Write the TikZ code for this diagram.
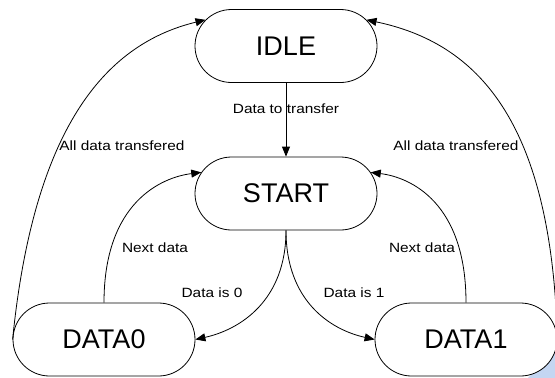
\documentclass[tikz,border=0pt]{standalone}
\usepackage{fontspec}
\setmainfont{Liberation Sans}
\newfontfamily\lblfont[FakeStretch=1.15]{Liberation Sans}
\usetikzlibrary{shapes.misc,arrows.meta}
\definecolor{cornertint}{RGB}{196,214,242}
\tikzset{
  state/.style={rounded rectangle, draw, line width=0.8pt, fill=white,
    minimum width=182pt, minimum height=73pt, inner sep=0pt,
    font=\fontsize{27}{30}\selectfont},
  trans/.style={draw, line width=0.8pt, -{Triangle[length=10pt,width=8pt]}},
  lbl/.style={inner sep=0pt, anchor=base, font=\lblfont\fontsize{13.4}{16}\selectfont}
}
\begin{document}
\begin{tikzpicture}[x=1pt,y=-1pt]
\useasboundingbox (0,0) rectangle (555,378);
% small tinted patch at the lower right corner
\fill[cornertint] (528,378) -- (555,350) -- (555,378) -- cycle;

% states
\node[state] (idle)  at (286,46)    {IDLE};
\node[state] (start) at (286,193.5) {START};
\node[state] (d0)    at (104,339.5) {DATA0};
\node[state] (d1)    at (466,339.5) {DATA1};

% transitions
\draw[trans] (idle.south) -- (start.north);
\draw[trans] (start.south) .. controls +(0,70) and +(45,-10) .. (d0.east);
\draw[trans] (start.south) .. controls +(0,70) and +(-45,-10) .. (d1.west);
\draw[trans] (d0.north) .. controls +(0,-100) and +(-40,5) .. (start.166);
\draw[trans] (d1.north) .. controls +(0,-100) and +(40,5) .. (start.14);
\draw[trans] (d0.west) .. controls +(22,-220) and +(-95,23) .. (idle.162);
\draw[trans] (d1.east) .. controls +(-6,-220) and +(110,23) .. (idle.18);

% transition labels
\node[lbl] (lTransfer) at (286,113)   {Data to transfer};
\node[lbl] (lAllL)     at (122,150)   {All data transfered};
\node[lbl] (lAllR)     at (456,150)   {All data transfered};
\node[lbl] (lNextL)    at (155,252.5) {Next data};
\node[lbl] (lNextR)    at (422,252.5) {Next data};
\node[lbl] (lZero)     at (212,297.5) {Data is 0};
\node[lbl] (lOne)      at (354,297.5) {Data is 1};
\end{tikzpicture}
\end{document}
